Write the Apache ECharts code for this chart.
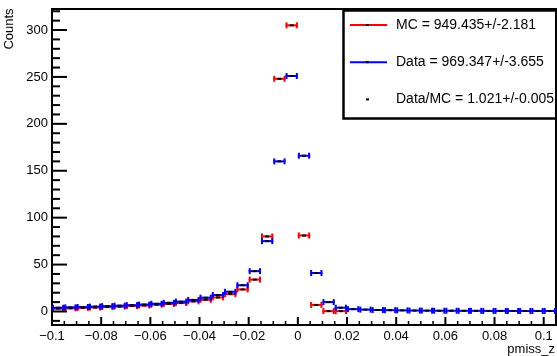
<!DOCTYPE html>
<html>
<head>
<meta charset="utf-8">
<script src="https://cdn.jsdelivr.net/npm/echarts@6/dist/echarts.min.js"></script>
<style>
  html, body { margin: 0; padding: 0; background: #fff; }
  #main { width: 557px; height: 356px; }
</style>
</head>
<body>
<div id="main"></div>
<script>
// bin centres, width 0.005
var binCenters = [-0.0975, -0.0925, -0.0875, -0.0825, -0.0775, -0.0725, -0.0675, -0.0625,
  -0.0575, -0.0525, -0.0475, -0.0425, -0.0375, -0.0325, -0.0275, -0.0225, -0.0175, -0.0125,
  -0.0075, -0.0025, 0.0025, 0.0075, 0.0125, 0.0175, 0.0225, 0.0275, 0.0325, 0.0375, 0.0425,
  0.0475, 0.0525, 0.0575, 0.0625, 0.0675, 0.0725, 0.0775, 0.0825, 0.0875, 0.0925, 0.0975, 0.1025];
var binWidth = 0.005;

// MC (red)
var mcCounts = [3.0, 3.4, 3.8, 4.2, 4.7, 5.2, 5.8, 6.4, 7.2, 8.0, 9.0, 10.8, 12.5, 15, 18.5, 23.5,
  34, 80, 248, 305, 81, 7, 0.4, 0.4, null, null, null, null, null, null, null, null, null, null,
  null, null, null, null, null, null, null];
// Data (blue)
var dataCounts = [4.0, 4.4, 4.8, 5.2, 5.7, 6.2, 6.8, 7.4, 8.2, 9.2, 10.5, 12.3, 14.7, 17.6, 21, 28,
  43, 75, 160, 251, 166, 41, 10, 4, 2.5, 2.0, 1.6, 1.4, 1.2, 1.0, 0.9, 0.8, 0.8, 0.7, 0.7, 0.6,
  0.6, 0.5, 0.5, 0.5, 0.5];

var xTickLabels = [-0.1, -0.08, -0.06, -0.04, -0.02, 0, 0.02, 0.04, 0.06, 0.08, 0.1];
var yTickLabels = [0, 50, 100, 150, 200, 250, 300];

var xMin = -0.1, xMax = 0.105, yMin = -14.4, yMax = 322.4;

var legendLines = [
  { text: 'MC = 949.435+/-2.181', color: '#ff0000' },
  { text: 'Data = 969.347+/-3.655', color: '#0000ff' },
  { text: 'Data/MC = 1.021+/-0.005', color: null }
];

// tick marks (ROOT style, inside the frame) drawn through the axes' scales
// kind: 0 x minor, 1 x major, 2 y minor, 3 y major
var tickData = [];
for (var i = 1; i < 41; i++) {
  var xv = +(-0.1 + i * 0.005).toFixed(4);
  tickData.push([xv, yMin, xTickLabels.some(function (t) { return Math.abs(t - xv) < 1e-9; }) ? 1 : 0]);
}
for (var v = -10; v <= 320; v += 10) {
  tickData.push([xMin, v, yTickLabels.indexOf(v) >= 0 ? 3 : 2]);
}

function histData(counts) {
  var out = [];
  for (var i = 0; i < binCenters.length; i++) {
    if (counts[i] == null) continue;
    out.push([binCenters[i] - binWidth / 2, binCenters[i] + binWidth / 2, counts[i]]);
  }
  return out;
}

function errBar(color) {
  return function (params, api) {
    var a = api.coord([api.value(0), api.value(2)]);
    var b = api.coord([api.value(1), api.value(2)]);
    var y = a[1];
    var mid = (a[0] + b[0]) / 2;
    var st = { stroke: color, lineWidth: 2 };
    return {
      type: 'group',
      children: [
        { type: 'line', shape: { x1: a[0], y1: y, x2: b[0], y2: y }, style: st },
        { type: 'line', shape: { x1: a[0] + 1, y1: y - 3, x2: a[0] + 1, y2: y + 3 }, style: st },
        { type: 'line', shape: { x1: b[0] - 1, y1: y - 3, x2: b[0] - 1, y2: y + 3 }, style: st },
        { type: 'rect', shape: { x: mid - 2, y: y - 1, width: 4, height: 2 }, style: { fill: '#000' } }
      ]
    };
  };
}

function drawTick(params, api) {
  var p = api.coord([api.value(0), api.value(1)]);
  var kind = api.value(2);
  var len = [4, 8, 8, 15][kind];
  var shape = kind < 2
    ? { x1: p[0], y1: p[1], x2: p[0], y2: p[1] - len }
    : { x1: p[0], y1: p[1], x2: p[0] + len, y2: p[1] };
  return { type: 'line', shape: shape, style: { stroke: '#000', lineWidth: kind === 0 ? 1.5 : 2 } };
}

var font = '"Liberation Sans", Arial, sans-serif';

var chart = echarts.init(document.getElementById('main'), null, { renderer: 'canvas' });

var legendGraphics = [{
  type: 'rect', left: 341, top: 8, z: 100,
  shape: { width: 240, height: 108 },
  style: { fill: 'none', stroke: '#000', lineWidth: 2.5 }
}];
legendLines.forEach(function (l, k) {
  var y = 25 + k * 37.2;
  if (l.color) {
    legendGraphics.push({ type: 'line', z: 101, shape: { x1: 350, y1: y, x2: 387, y2: y },
      style: { stroke: l.color, lineWidth: 2 } });
  }
  legendGraphics.push({ type: 'rect', z: 102, shape: { x: 366, y: y - 1, width: 3, height: 2 },
    style: { fill: '#000' } });
  legendGraphics.push({ type: 'text', z: 102, x: 396, y: y,
    style: { text: l.text, font: '14px ' + font, fill: '#000', verticalAlign: 'middle' } });
});

var option = {
  animation: false,
  backgroundColor: '#fff',
  grid: { left: 52, top: 9, right: 1, bottom: 31, show: true, borderColor: '#000', borderWidth: 2 },
  xAxis: {
    type: 'value', min: xMin, max: xMax, position: 'bottom',
    axisLine: { show: true, onZero: false, lineStyle: { color: '#000', width: 2 } },
    axisTick: { show: false },
    splitLine: { show: false },
    axisLabel: {
      show: true, customValues: xTickLabels, margin: 5, color: '#000', fontSize: 13, fontFamily: font,
      formatter: function (v) {
        var s = String(Math.abs(+v.toFixed(3)));
        return v < -1e-9 ? '\u2212' + s : s;
      }
    }
  },
  yAxis: {
    type: 'value', min: yMin, max: yMax, position: 'left',
    axisLine: { show: true, onZero: false, lineStyle: { color: '#000', width: 2 } },
    axisTick: { show: false },
    splitLine: { show: false },
    axisLabel: { show: true, customValues: yTickLabels, margin: 4, color: '#000', fontSize: 13, fontFamily: font }
  },
  series: [
    {
      type: 'custom', name: 'MC',
      renderItem: errBar('#ff0000'),
      encode: { x: [0, 1], y: 2 },
      data: histData(mcCounts), clip: true
    },
    {
      type: 'custom', name: 'Data',
      renderItem: errBar('#0000ff'),
      encode: { x: [0, 1], y: 2 },
      data: histData(dataCounts), clip: true
    },
    {
      type: 'custom', name: 'ticks', silent: true, z: 5,
      renderItem: drawTick,
      encode: { x: 0, y: 1 },
      data: tickData, clip: false
    }
  ],
  graphic: [
    { type: 'text', x: 9, y: 29, rotation: Math.PI / 2,
      style: { text: 'Counts', font: '13px ' + font, fill: '#000', align: 'center', verticalAlign: 'middle' } },
    { type: 'text', x: 555, y: 349,
      style: { text: 'pmiss_z', font: '13px ' + font, fill: '#000', align: 'right', verticalAlign: 'middle' } }
  ].concat(legendGraphics)
};

chart.setOption(option);
</script>
</body>
</html>
